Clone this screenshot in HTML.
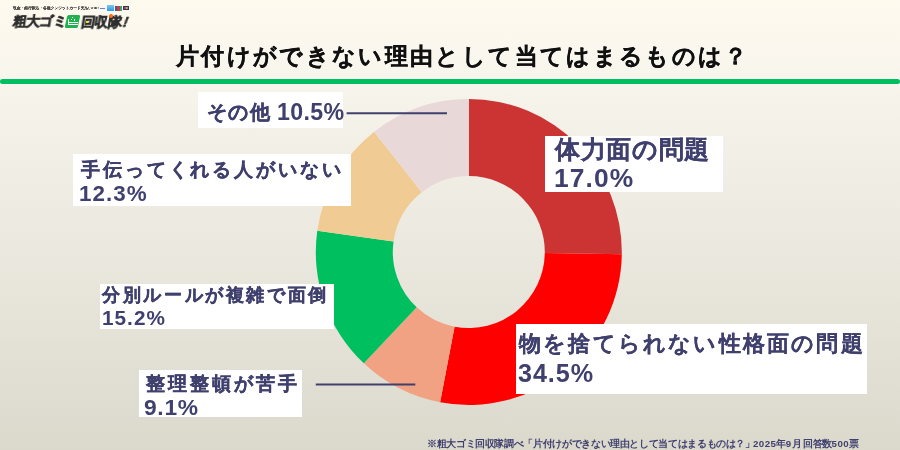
<!DOCTYPE html>
<html lang="ja">
<head>
<meta charset="utf-8">
<style>
html,body{margin:0;padding:0;}
body{width:900px;height:450px;overflow:hidden;position:relative;font-family:"Liberation Sans",sans-serif;font-weight:bold;
background:linear-gradient(180deg,#fefaee 0%,#f9f6ee 14%,#f3f0e8 30%,#ebe8df 55%,#dbd8cc 100%);}
.abs{position:absolute;}
.t{position:absolute;white-space:nowrap;line-height:1;will-change:transform;}
.dark{color:#111111;}
.navy{color:#40406f;}
.box{position:absolute;background:#fff;}
.dg{letter-spacing:0.45px;}
.bar{position:absolute;left:0px;top:79px;width:900px;height:5px;border-radius:2.5px;background:#00bf5f;box-shadow:0 0 1px 1px rgba(255,255,255,0.5);}

</style>
</head>
<body>
<div class="logo"><div class="abs" style="left:12.7px;top:4.6px;font-size:8px;line-height:14px;color:#4a4a4a;white-space:nowrap;letter-spacing:0px;-webkit-text-stroke:0.15px #4a4a4a;will-change:transform;transform:scale(0.47);transform-origin:0 0;">現金・銀行振込・各種クレジットカード支払いOK!</div>
<div class="abs" style="left:99.3px;top:6.6px;width:7.7px;height:3.8px;background:#f4f7fb;"></div>
<div class="abs" style="left:100.3px;top:7.6px;width:5px;height:1.8px;background:#6b86c4;"></div>
<div class="abs" style="left:107px;top:4.8px;width:6.9px;height:6.1px;background:linear-gradient(180deg,#7cc6f0,#2e9ae0);"></div>
<div class="abs" style="left:115px;top:5.6px;width:7px;height:5.5px;background:linear-gradient(90deg,#2d5fae 0 33%,#d8344a 33% 66%,#2fb060 66%);"></div>
<div class="abs" style="left:122.6px;top:5.9px;width:6.6px;height:4.3px;background:#263a80;"></div>
<div class="abs" style="left:123.6px;top:6.9px;width:4.6px;height:2.3px;background:linear-gradient(90deg,#e23b2b 0 50%,#f5a623 50%);border-radius:1px;"></div>
<div class="abs" style="left:11.8px;top:14.4px;font-size:13.4px;line-height:16px;color:#2e2e2e;white-space:nowrap;letter-spacing:0.2px;-webkit-text-stroke:0.6px #2e2e2e;will-change:transform;transform:skewX(-9deg);transform-origin:0 100%;">粗大ゴミ</div>
<div class="abs" style="left:65.8px;top:15.4px;width:13.2px;height:12.9px;background:#1fb24e;border-radius:1.5px;transform:skewX(-12deg);"></div>
<div class="abs" style="left:68px;top:18.8px;width:1.4px;height:5.8px;background:#fff;border-radius:0.6px;"></div>
<div class="abs" style="left:68px;top:21.6px;width:9.8px;height:1px;background:#fff;"></div>
<div class="abs" style="left:68.6px;top:23.6px;width:9px;height:1.6px;background:#fff;border-radius:0.8px;"></div>
<div class="abs" style="left:71px;top:19px;width:1.2px;height:1.2px;background:#fff;"></div>
<div class="abs" style="left:74px;top:19.4px;width:1.2px;height:1.2px;background:#fff;"></div>
<div class="abs" style="left:72.3px;top:17.2px;width:1px;height:1px;background:#fff;"></div>
<div class="abs" style="left:80px;top:14.4px;letter-spacing:0.4px;font-size:13.4px;line-height:16px;color:#2e2e2e;white-space:nowrap;-webkit-text-stroke:0.6px #2e2e2e;will-change:transform;transform:skewX(-9deg);transform-origin:0 100%;">回収隊<span style="display:inline-block;width:7px;font-size:14.5px;margin-left:1.8px;-webkit-text-stroke:0.5px #2e2e2e;transform:skewX(-12deg);">!</span></div>
<div class="abs" style="left:86.3px;top:21px;width:2px;height:2px;background:#f5e500;"></div>
<div class="abs" style="left:109.2px;top:13.9px;width:3.8px;height:3.8px;border-radius:50%;background:#ff6a1a;"></div></div>
<div class="bar"></div>
<svg class="abs" style="left:0;top:0" width="900" height="450" viewBox="0 0 900 450">
<path d="M468.80,99.00A153.0,153.0 0 0 1 621.79,254.14L544.79,253.06A76.0,76.0 0 0 0 468.80,176.00Z" fill="#cc3333"/>
<path d="M621.79,254.14A153.0,153.0 0 0 1 440.13,402.29L454.56,326.65A76.0,76.0 0 0 0 544.79,253.06Z" fill="#ff0000"/>
<path d="M440.13,402.29A153.0,153.0 0 0 1 363.87,363.35L416.68,307.31A76.0,76.0 0 0 0 454.56,326.65Z" fill="#f0a282"/>
<path d="M363.87,363.35A153.0,153.0 0 0 1 317.29,230.71L393.54,241.42A76.0,76.0 0 0 0 416.68,307.31Z" fill="#00bf5f"/>
<path d="M317.29,230.71A153.0,153.0 0 0 1 374.18,131.76L421.80,192.27A76.0,76.0 0 0 0 393.54,241.42Z" fill="#f0cc94"/>
<path d="M374.18,131.76A153.0,153.0 0 0 1 468.80,99.00L468.80,176.00A76.0,76.0 0 0 0 421.80,192.27Z" fill="#e8d8d8"/>
<line x1="346.6" y1="113.2" x2="447" y2="113.2" stroke="#40406f" stroke-width="2"/>
<line x1="315.8" y1="384.5" x2="415.3" y2="384.5" stroke="#40406f" stroke-width="2"/>
</svg>
<div class="box" style="left:198px;top:92px;width:145.00px;height:36.00px;"></div>
<div class="box" style="left:73px;top:154.3px;width:278.30px;height:51.40px;"></div>
<div class="box" style="left:100.1px;top:284px;width:233.90px;height:44.70px;"></div>
<div class="box" style="left:139.3px;top:370.1px;width:162.60px;height:47.40px;"></div>
<div class="box" style="left:545.1px;top:136.1px;width:178.40px;height:55.70px;"></div>
<div class="box" style="left:516.2px;top:324.2px;width:351.00px;height:69.40px;"></div>
<div id="title" class="t dark" style="left:176.47px;top:45.15px;font-size:23.40px;letter-spacing:2.347px;-webkit-text-stroke:0.3px currentColor;">片付けができない理由として当てはまるものは？</div>
<div id="sono1" class="t navy" style="left:206.68px;top:103.18px;font-size:19.96px;letter-spacing:1.329px;-webkit-text-stroke:0.3px currentColor;">その他</div>
<div id="sono2" class="t navy" style="left:276.64px;top:101.45px;font-size:23.18px;letter-spacing:0.380px;">10.5%</div>
<div id="tetsu1" class="t navy" style="left:80.89px;top:159.65px;font-size:19.39px;letter-spacing:2.888px;-webkit-text-stroke:0.3px currentColor;">手伝ってくれる人がいない</div>
<div id="tetsu2" class="t navy" style="left:79.26px;top:183.43px;font-size:22.40px;letter-spacing:1.020px;">12.3%</div>
<div id="bun1" class="t navy" style="left:102.43px;top:286.45px;font-size:18.23px;letter-spacing:2.639px;-webkit-text-stroke:0.3px currentColor;">分別ルールが複雑で面倒</div>
<div id="bun2" class="t navy" style="left:101.82px;top:308.11px;font-size:20.76px;letter-spacing:1.021px;">15.2%</div>
<div id="sei1" class="t navy" style="left:145.50px;top:374.16px;font-size:19.37px;letter-spacing:2.965px;-webkit-text-stroke:0.3px currentColor;">整理整頓が苦手</div>
<div id="sei2" class="t navy" style="left:144.45px;top:396.09px;font-size:22.79px;letter-spacing:0.705px;">9.1%</div>
<div id="tai1" class="t navy" style="left:555.10px;top:136.77px;font-size:25.29px;letter-spacing:0.651px;-webkit-text-stroke:0.15px currentColor;">体力面の問題</div>
<div id="tai2" class="t navy" style="left:554.08px;top:164.86px;font-size:26.37px;letter-spacing:1.095px;">17.0%</div>
<div id="mono1" class="t navy" style="left:518.77px;top:333.27px;font-size:21.60px;letter-spacing:2.201px;-webkit-text-stroke:0.15px currentColor;">物を捨てられない性格面の問題</div>
<div id="mono2" class="t navy" style="left:518.24px;top:361.24px;font-size:25.18px;letter-spacing:0.932px;">34.5%</div>
<div id="foot1" class="t navy" style="left:426.60px;top:439.15px;font-size:9.70px;letter-spacing:-0.360px;">※粗大ゴミ回収隊調べ「片付けができない理由として当てはまるものは？」</div>
<div id="foot2" class="t navy" style="left:752.77px;top:439.44px;font-size:9.70px;letter-spacing:-0.550px;"><span class="dg">2025</span>年<span class="dg">9</span>月 回答数<span class="dg">500</span>票</div>
</body>
</html>
